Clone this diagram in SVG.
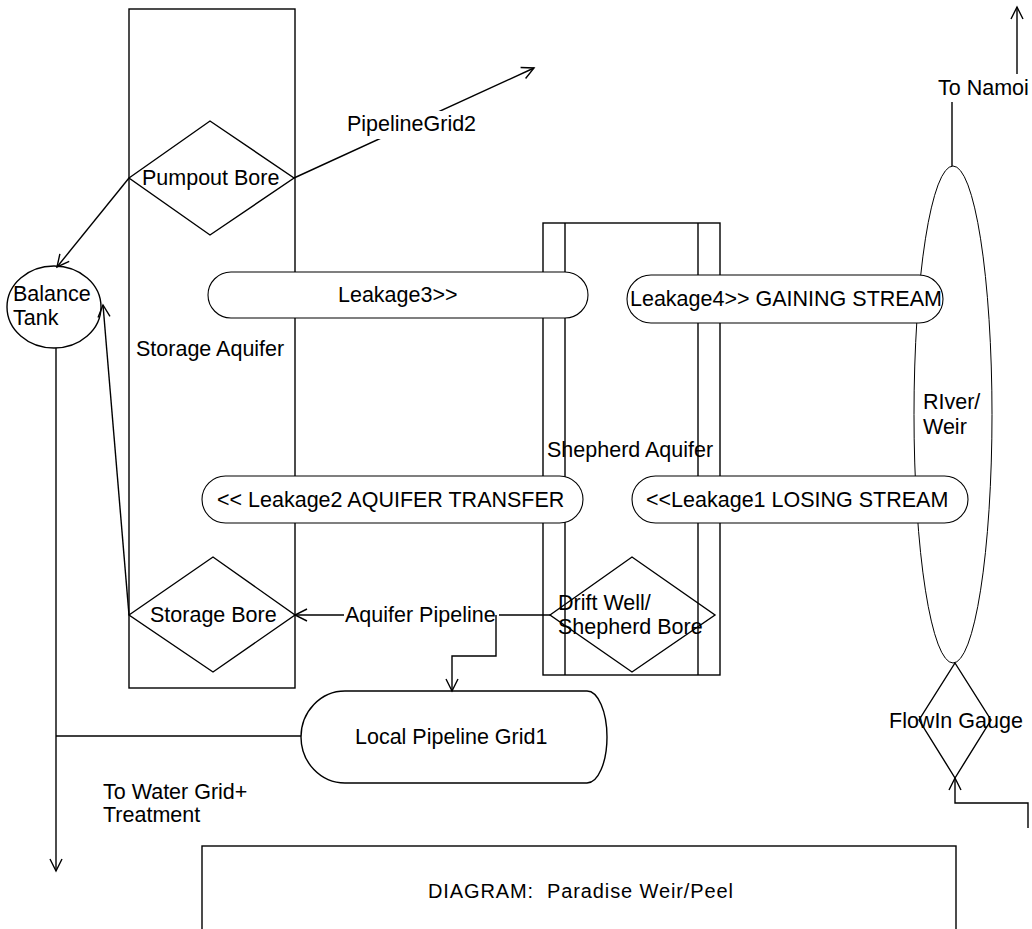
<svg xmlns="http://www.w3.org/2000/svg" width="1032" height="929" viewBox="0 0 1032 929">
<style>
  .ln{fill:none;stroke:#000;stroke-width:1.4}
  .thin{fill:none;stroke:#000;stroke-width:1}
  .stad{fill:#fff;stroke:#000;stroke-width:1.1}
  .t{font-family:"Liberation Sans",Arial,sans-serif;font-size:21.5px;fill:#000}
  .bg{fill:#fff;stroke:none}
</style>
<defs>
  <marker id="arr" markerUnits="userSpaceOnUse" markerWidth="16" markerHeight="14" refX="14" refY="7" orient="auto">
    <path d="M2,1 L14,7 L2,13" fill="none" stroke="#000" stroke-width="1.4"/>
  </marker>
</defs>
<rect width="1032" height="929" fill="#fff"/>

<g id="storage-aquifer">
  <rect class="ln" x="129" y="9" width="166" height="679"/>
  <text class="t" x="136" y="356">Storage Aquifer</text>
</g>
<g id="shepherd-aquifer">
  <rect class="ln" x="543" y="223" width="177" height="452"/>
  <line class="ln" x1="565" y1="223" x2="565" y2="675"/>
  <line class="ln" x1="698" y1="223" x2="698" y2="675"/>
  <text class="t" x="547" y="457">Shepherd Aquifer</text>
</g>
<g id="river-weir">
  <ellipse class="thin" cx="953" cy="414.5" rx="39" ry="248.5"/>
  <text class="t" x="923" y="409">RIver/</text>
  <text class="t" x="923" y="434">Weir</text>
</g>

<g id="leakage3">
  <rect class="stad" x="208" y="272" width="380" height="46" rx="23" ry="23"/>
  <text class="t" x="338" y="302">Leakage3&gt;&gt;</text>
</g>
<g id="leakage4">
  <rect class="stad" x="627" y="275" width="316" height="48" rx="24" ry="24"/>
  <text class="t" x="630" y="306">Leakage4&gt;&gt; GAINING STREAM</text>
</g>
<g id="leakage2">
  <rect class="stad" x="202" y="476" width="381" height="47" rx="23.5" ry="23.5"/>
  <text class="t" x="217" y="507">&lt;&lt; Leakage2 AQUIFER TRANSFER</text>
</g>
<g id="leakage1">
  <rect class="stad" x="632" y="476" width="336" height="47" rx="23.5" ry="23.5"/>
  <text class="t" x="646" y="507">&lt;&lt;Leakage1 LOSING STREAM</text>
</g>

<g id="pumpout-bore">
  <polygon class="ln" points="129,178 210,121 294,178 210,235"/>
  <text class="t" x="142" y="185">Pumpout Bore</text>
</g>
<g id="storage-bore">
  <polygon class="ln" points="129,615 213,557 295,615 213,672"/>
  <text class="t" x="150" y="622">Storage Bore</text>
</g>
<g id="drift-well">
  <polygon class="ln" points="550,615 632,557 715,615 632,672"/>
  <text class="t" x="558" y="610">Drift Well/</text>
  <text class="t" x="558" y="634">Shepherd Bore</text>
</g>
<g id="flowin-gauge">
  <polygon class="ln" points="955,663 991,720 955,778 919,720"/>
  <text class="t" x="889" y="728">FlowIn Gauge</text>
</g>
<g id="balance-tank">
  <ellipse class="ln" cx="54" cy="307" rx="47" ry="41"/>
  <text class="t" x="13" y="301">Balance</text>
  <text class="t" x="13" y="325">Tank</text>
</g>
<g id="local-pipeline-grid1">
  <path class="ln" d="M345,691 H587 A20,46 0 0 1 587,783 H345 A44,46 0 0 1 345,691 Z"/>
  <text class="t" x="355" y="744">Local Pipeline Grid1</text>
</g>
<g id="diagram-title">
  <rect class="ln" x="202" y="846" width="754" height="110"/>
  <text class="t" x="428" y="898" style="font-size:20px;white-space:pre" textLength="305" lengthAdjust="spacing">DIAGRAM:  Paradise Weir/Peel</text>
</g>

<g id="connectors">
  <line class="ln" x1="294" y1="178" x2="534" y2="68" marker-end="url(#arr)"/>
  <rect class="bg" x="345" y="111" width="134" height="28"/>
  <text class="t" x="347" y="131">PipelineGrid2</text>

  <line class="ln" x1="129" y1="178" x2="57" y2="267" marker-end="url(#arr)"/>
  <line class="ln" x1="129" y1="615" x2="103" y2="305" marker-end="url(#arr)"/>
  <line class="ln" x1="56" y1="348" x2="56" y2="871" marker-end="url(#arr)"/>
  <line class="ln" x1="301" y1="736" x2="56" y2="736"/>

  <line class="ln" x1="550" y1="615" x2="295" y2="615" marker-end="url(#arr)"/>
  <rect class="bg" x="344" y="603" width="155" height="26"/>
  <text class="t" x="345" y="622">Aquifer Pipeline</text>
  <path class="ln" d="M496,615 V656 H452 V691" marker-end="url(#arr)"/>

  <path class="ln" d="M952,166 V86 H1017 V7" marker-end="url(#arr)"/>
  <rect class="bg" x="936" y="74" width="96" height="28"/>
  <text class="t" x="938" y="95">To Namoi</text>

  <path class="ln" d="M1028,828 V803 H955 V778" marker-end="url(#arr)"/>

  <text class="t" x="103" y="799">To Water Grid+</text>
  <text class="t" x="103" y="822">Treatment</text>
</g>
</svg>
